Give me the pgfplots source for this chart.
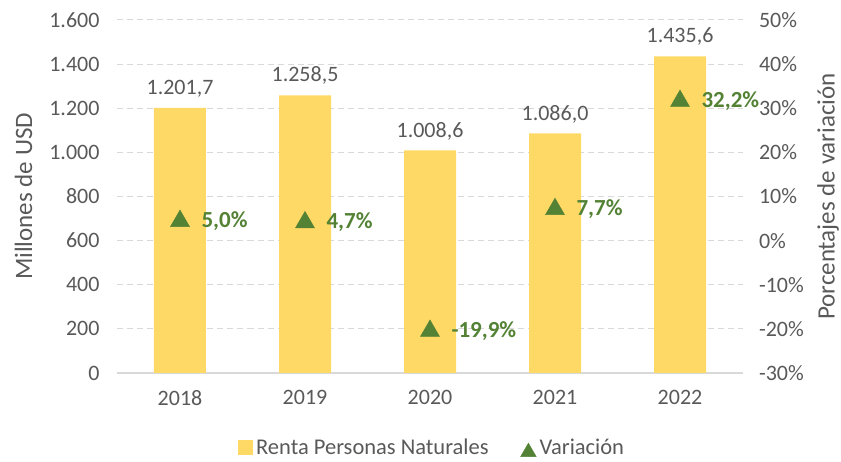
\documentclass[border=0pt]{standalone}
\usepackage{pgfplots}
\pgfplotsset{compat=1.18}
\usepackage{fontspec}
\setmainfont{Carlito}
\definecolor{barc}{HTML}{FFD966}
\definecolor{grn}{HTML}{548235}
\definecolor{txt}{HTML}{595959}
\definecolor{grd}{HTML}{D9D9D9}
\begin{document}
\begin{tikzpicture}[font=\fontsize{22}{26}\selectfont]
\path[use as bounding box] (-117.5pt,-89pt) rectangle (723.5pt,373pt);
\begin{axis}[
  scale only axis, width=625pt, height=353pt,
  xmin=-0.5, xmax=4.5, ymin=0, ymax=1600,
  xtick={0,1,2,3,4}, xticklabels={2018,2019,2020,2021,2022},
  ytick={0,200,...,1600},
  yticklabel={\pgfmathprintnumber[fixed,precision=0,use comma,1000 sep={.},assume math mode=true]{\tick}},
  axis y line*=left, axis x line*=bottom,
  y axis line style={draw=none},
  x axis line style={grd, line width=1.3pt, -},
  ymajorgrids, grid style={grd, line width=1pt, dash pattern=on 6pt off 4pt},
  major tick length=0pt,
  tick label style={txt, font=\fontsize{22}{26}\selectfont},
  yticklabel style={xshift=-14.5pt},
  xticklabel style={yshift=-14pt},
  ylabel={Millones de USD},
  ylabel style={txt, font=\fontsize{25}{30}\selectfont, inner sep=0pt, at={([xshift=-94pt]axis description cs:0,0.5)}, anchor=center, rotate=0},
  clip=false,
]
\addplot[ybar, bar width=52pt, fill=barc, draw=none,
  nodes near coords={\pgfmathprintnumber[fixed,fixed zerofill,precision=1,use comma,1000 sep={.},assume math mode=true]{\pgfplotspointmeta}},
  nodes near coords style={txt, yshift=7pt, font=\fontsize{22}{26}\selectfont}]
  coordinates {(0,1201.7) (1,1258.5) (2,1008.6) (3,1086.0) (4,1435.6)};
\end{axis}
\begin{axis}[
  scale only axis, width=625pt, height=353pt,
  xmin=-0.5, xmax=4.5, ymin=-30, ymax=50,
  axis x line=none, axis y line*=right,
  y axis line style={draw=none},
  ytick={-30,-20,...,50},
  yticklabel={\pgfmathprintnumber[assume math mode=true]{\tick}\%},
  major tick length=0pt,
  tick label style={txt, font=\fontsize{22}{26}\selectfont},
  yticklabel style={xshift=13pt},
  ylabel={Porcentajes de variación},
  ylabel style={txt, font=\fontsize{25}{30}\selectfont, inner sep=0pt, at={([xshift=85.5pt]axis description cs:1,0.5)}, anchor=center},
  clip=false,
  legend style={at={(0.503,-0.212)}, anchor=center, draw=none, fill=none,
    legend columns=2, text=txt, font=\fontsize{22.5}{26}\selectfont,
    nodes={inner xsep=2pt, inner ysep=0pt},
    /tikz/every even column/.append style={column sep=30pt}},
]
\addlegendimage{legend image code/.code={\fill[barc] (0pt,-7pt) rectangle (14pt,7pt); \path (16pt,0pt);}}
\addlegendentry{Renta Personas Naturales}
\addplot[only marks, mark=triangle*, mark size=11pt, color=grn,
  mark options={yshift=-2.5pt},
  point meta=explicit symbolic,
  nodes near coords,
  nodes near coords style={anchor=west, xshift=18pt, yshift=0pt, text=grn, font=\fontsize{23}{27}\selectfont\bfseries},
  legend image code/.code={\draw[grn, mark=triangle*, mark size=9pt] plot coordinates {(9pt,-2pt)}; \path (18pt,0pt);}]
  coordinates {(0,5.0)[5,0\%] (1,4.7)[4,7\%] (2,-19.9)[-19,9\%] (3,7.7)[7,7\%] (4,32.2)[32,2\%]};
\addlegendentry{Variación}
\end{axis}
\end{tikzpicture}
\end{document}
